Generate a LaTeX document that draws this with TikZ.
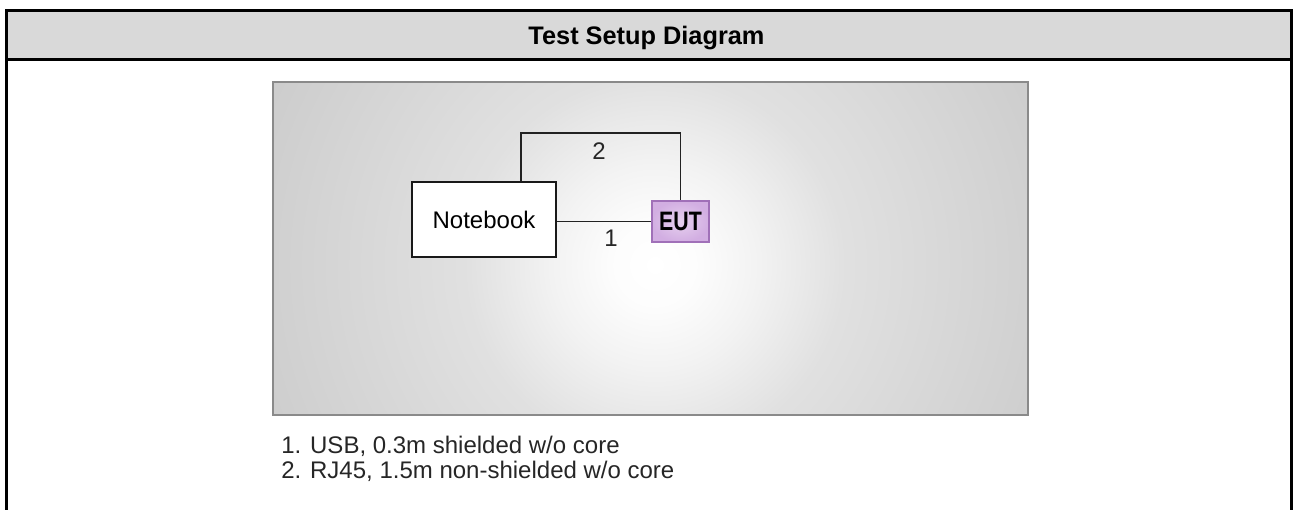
\documentclass[tikz,border=0pt]{standalone}
\usepackage{fontspec}
\setmainfont{Liberation Sans}
\definecolor{hdr}{RGB}{217,217,217}
\definecolor{panelborder}{RGB}{138,138,138}
\definecolor{eutfill}{RGB}{210,174,226}
\definecolor{eutinner}{RGB}{230,208,238}
\definecolor{eutborder}{RGB}{160,112,184}
\definecolor{wire}{RGB}{34,34,34}
\pgfdeclareradialshading{panelshade}{\pgfpoint{0bp}{0bp}}{color(0bp)=(white); color(2.5bp)=(white!99!black); color(6bp)=(white!95!black); color(11bp)=(white!88!black); color(25bp)=(white!80!black); color(50bp)=(white!80!black)}
\tikzset{
  frame/.style={line width=2.25pt, black},
  devbox/.style={draw=black!90, fill=white, line width=1.1pt, inner sep=0pt, font=\fontsize{18}{22}\selectfont},
  eutbox/.style={draw=eutborder, line width=1.1pt, inner sep=0pt, shading=radial, inner color=eutinner, outer color=eutfill},
  wireline/.style={draw=wire, line width=1.1pt},
  lbl/.style={inner sep=0pt, anchor=base, font=\fontsize{18}{22}\selectfont, text=black!85},
}
\begin{document}
\begin{tikzpicture}[x=0.75pt, y=-0.75pt]
\useasboundingbox (0,0) rectangle (1293,510);
% header
\fill[hdr] (6.5,11) rectangle (1291.5,59.5);
\draw[frame] (6.5,510) -- (6.5,11) -- (1291.5,11) -- (1291.5,510);
\draw[frame] (6.5,59.5) -- (1291.5,59.5);
\node[inner sep=0pt, anchor=base, font=\fontsize{19}{23}\selectfont\bfseries] (title) at (646.5,45) {Test Setup Diagram};
% panel
\begin{scope}
\clip (273,82) rectangle (1028,415);
\shade[shading=panelshade] (655,265) circle (430);
\end{scope}
\draw[panelborder, line width=1.5pt] (273,82) rectangle (1028,415);
% devices
\node[devbox, minimum width=108pt, minimum height=56.25pt] (nb) at (484,219.5) {Notebook};
\node[eutbox, minimum width=42.75pt, minimum height=30.75pt] (eut) at (680.5,221.5) {\fontsize{20}{24}\selectfont\bfseries\scalebox{0.8}[1]{EUT}};
\coordinate (c2a) at (521,133);
\draw[wireline] (eut.west -| nb.east) -- (eut.west);
\draw[wireline] (nb.north -| c2a) -- (c2a) -| (eut.north);
\node[lbl] (l2) at (599,160) {2};
\node[lbl] (l1) at (611,246) {1};
% legend
\node[lbl, anchor=base west] (leg1) at (281,453) {1. USB, 0.3m shielded w/o core};
\node[lbl, anchor=base west] (leg2) at (281,478) {2. RJ45, 1.5m non-shielded w/o core};
\end{tikzpicture}
\end{document}
